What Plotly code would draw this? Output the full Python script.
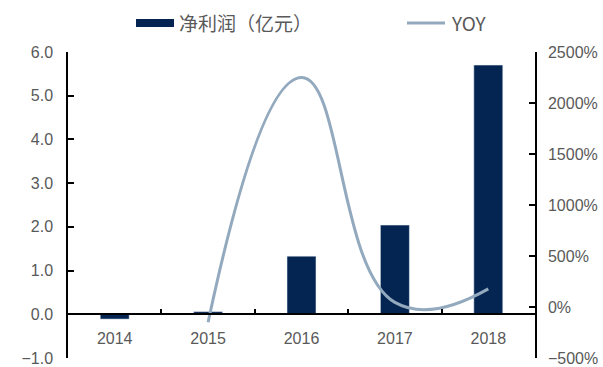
import plotly.graph_objects as go

years = ["2014", "2015", "2016", "2017", "2018"]
net_profit = [-0.11, 0.06, 1.33, 2.04, 5.70]
yoy = [None, -150, 2250, 45, 178]

bar_name = "净利润（亿元）"
line_name = "YOY"

W, H = 603, 367
L, R, T, B = 68, 68, 52, 9
pw, ph = W - L - R, H - T - B

def px_x(x):
    return (x - L) / pw

def px_y(y):
    return (H - B - y) / ph

BAR_COLOR = "#042551"
LINE_COLOR = "#93a9be"
TXT = "#595959"
FONT = "Liberation Sans, Arial, sans-serif"
CJK = "Noto Sans CJK SC"

fig = go.Figure()
fig.add_trace(go.Bar(x=years, y=net_profit, name=bar_name, marker_color=BAR_COLOR,
                     width=0.31, yaxis="y", showlegend=False))
fig.add_trace(go.Scatter(x=years, y=yoy, name=line_name, mode="lines",
                         line=dict(color=LINE_COLOR, width=3, shape="spline", smoothing=1.3),
                         yaxis="y2", connectgaps=False, showlegend=False))

fig.update_layout(
    width=W, height=H, autosize=False,
    margin=dict(l=L, r=R, t=T, b=B),
    paper_bgcolor="white", plot_bgcolor="white",
    font=dict(family=FONT, size=16, color=TXT),
    xaxis=dict(anchor="free", position=1/7, showline=True, linecolor="black", linewidth=1.5,
               ticks="inside", tickson="boundaries", ticklen=5, tickcolor="black", tickwidth=1.5,
               showgrid=False, zeroline=False, ticklabelstandoff=10, automargin=False,
               tickfont=dict(family=FONT, size=16, color=TXT)),
    yaxis=dict(range=[-1, 6], dtick=1, tickformat=".1f", showline=True, linecolor="black",
               linewidth=1.5, ticks="inside", ticklen=6, tickcolor="black", tickwidth=1.5,
               showgrid=False, zeroline=False, ticklabelstandoff=10, automargin=False,
               tickfont=dict(family=FONT, size=16, color=TXT)),
    yaxis2=dict(range=[-500, 2500], dtick=500, ticksuffix="%", overlaying="y", side="right",
                showline=True, linecolor="black", linewidth=1.5, ticks="inside", ticklen=6,
                tickcolor="black", tickwidth=1.5, showgrid=False, zeroline=False,
                ticklabelstandoff=8, automargin=False,
                tickfont=dict(family=FONT, size=16, color=TXT)),
)

# custom legend
ly = 23
fig.add_shape(type="rect", xref="paper", yref="paper",
              x0=px_x(136), x1=px_x(174), y0=px_y(27), y1=px_y(19),
              fillcolor=BAR_COLOR, line=dict(width=0))
fig.add_annotation(xref="paper", yref="paper", x=px_x(177), y=px_y(ly), text=bar_name,
                   showarrow=False, xanchor="left", yanchor="middle",
                   font=dict(family=CJK, size=19, color=TXT))
fig.add_shape(type="line", xref="paper", yref="paper",
              x0=px_x(407), x1=px_x(445), y0=px_y(ly), y1=px_y(ly),
              line=dict(color=LINE_COLOR, width=3))
fig.add_annotation(xref="paper", yref="paper", x=px_x(449), y=px_y(ly), text=line_name,
                   showarrow=False, xanchor="left", yanchor="middle",
                   font=dict(family=CJK, size=19, color=TXT))

fig.write_html("out.html")
